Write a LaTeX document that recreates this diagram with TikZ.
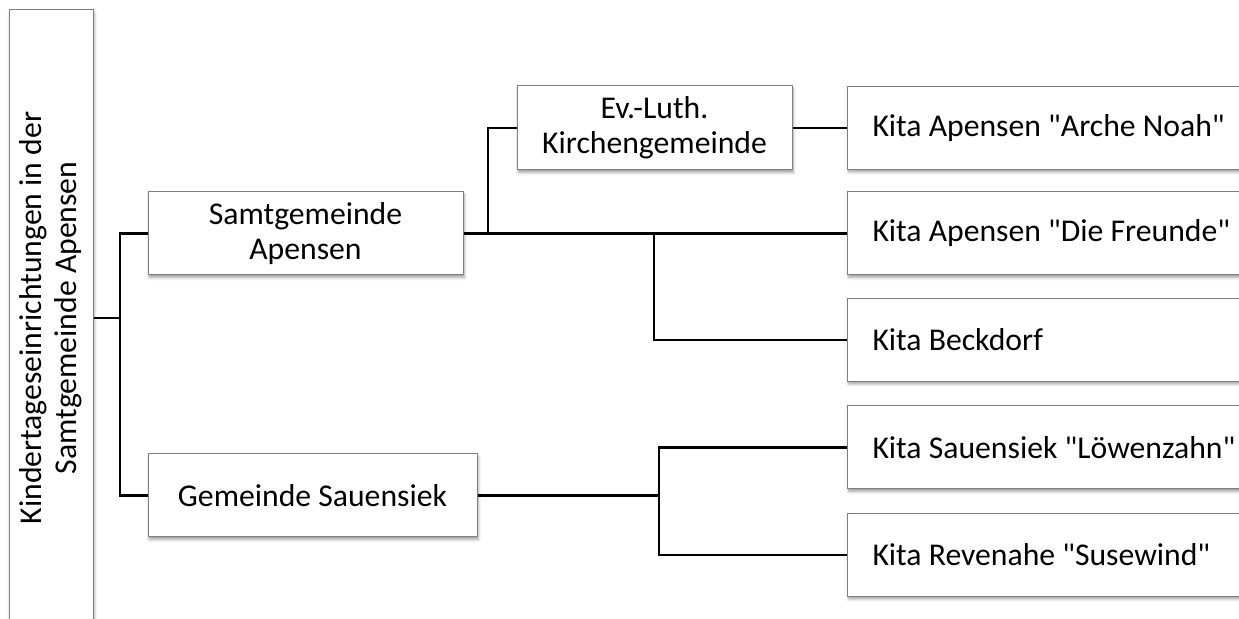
\documentclass[tikz,border=0pt]{standalone}
\usepackage{fontspec}
\setmainfont{Carlito}[Ligatures=TeXOff]
\usetikzlibrary{shadows.blur}
\begin{document}
\begin{tikzpicture}[x=0.5pt,y=-0.5pt,
  txt/.style={font=\fontsize{15.85}{17.5}\selectfont},
  box/.style={txt, draw=black!50, line width=0.5pt, fill=white, inner sep=0pt,
    minimum height=41.5pt, align=center,
    blur shadow={shadow xshift=0.6pt, shadow yshift=-1.2pt, shadow blur radius=1.5pt, shadow opacity=40}},
  kita/.style={box, anchor=west, inner xsep=12.5pt, text width=200pt, align=flush left},
  conn/.style={line width=1.3pt, black}]
\useasboundingbox (0,0) rectangle (1239,619);
\clip (0,0) rectangle (1239,619);
% boxes
\node[box, minimum width=42pt, minimum height=308pt] (L) at (51,318) {};
\node[txt, rotate=90, align=center, inner sep=0pt] (Lt) at (L.center) {Kindertageseinrichtungen in der\\Samtgemeinde Apensen};
\node[box, minimum width=157.5pt] (SA) at (305.5,233.5) {Samtgemeinde\\Apensen};
\node[box, minimum width=164.5pt] (GS) at (312.5,495.5) {Gemeinde Sauensiek};
\node[box, minimum width=137.5pt, minimum height=42pt] (EL) at (654.5,128) {Ev.-Luth.\\Kirchengemeinde};
\node[kita] (K1) at (847,128) {Kita Apensen "Arche Noah"};
\node[kita] (K2) at (847,233.5) {Kita Apensen "Die Freunde"};
\node[kita] (K3) at (847,340) {Kita Beckdorf};
\node[kita] (K4) at (847,447.5) {Kita Sauensiek "Löwenzahn"};
\node[kita] (K5) at (847,555) {Kita Revenahe "Susewind"};
% junctions
\coordinate (j1) at (120,318);
\coordinate (j2) at (488,0);
\coordinate (j3) at (654,0);
\coordinate (j4) at (659,0);
% connectors
\draw[conn] (L.east) -- (j1);
\draw[conn] (SA.west) -| (j1) |- (GS.west);
\draw[conn] (SA.east) -- (K2.west);
\draw[conn] (EL.west) -| (j2 |- SA.east);
\draw[conn] (j3 |- SA.east) |- (K3.west);
\draw[conn] (EL.east) -- (K1.west);
\draw[conn] (GS.east) -- (j4 |- GS.east);
\draw[conn] (K4.west) -- (K4.west -| j4) -- (K5.west -| j4) -- (K5.west);
\end{tikzpicture}
\end{document}
